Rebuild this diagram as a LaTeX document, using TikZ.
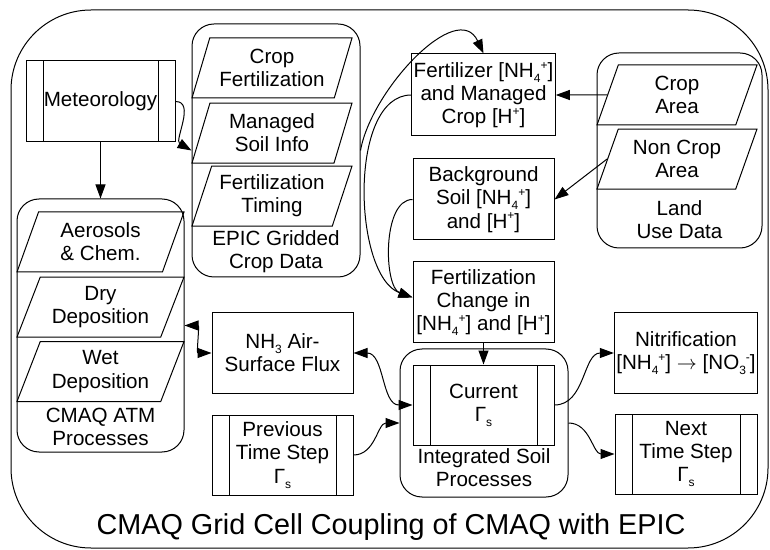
\documentclass[tikz,border=0pt]{standalone}
\usepackage{fontspec}
\setmainfont{Liberation Sans}
\usetikzlibrary{arrows.meta,positioning,shapes.geometric}

\newcommand{\lowtxt}[1]{\raisebox{-0.45ex}{\fontsize{6}{6}\selectfont #1}}
\newcommand{\hightxt}[1]{\raisebox{0.75ex}{\fontsize{6}{6}\selectfont #1}}
\newcommand{\nhfour}{[NH\lowtxt{4}\hightxt{+}]}
\newcommand{\hion}{[H\hightxt{+}]}
\newcommand{\nothree}{[NO\lowtxt{3}\hightxt{-}]}
\newcommand{\gammas}{Γ\lowtxt{s}}

\begin{document}
\begin{tikzpicture}[
  x=0.5pt, y=0.5pt,
  font=\fontsize{10.3}{11.6}\selectfont,
  >={Triangle[length=7pt, width=5pt]},
  box/.style={rectangle, draw, line width=0.5pt, minimum width=70.5pt, minimum height=40.5pt, align=center, inner sep=1pt},
  barbox/.style={box, path picture={
    \draw[line width=0.5pt] ([xshift=8.5pt]path picture bounding box.north west) -- ([xshift=8.5pt]path picture bounding box.south west);
    \draw[line width=0.5pt] ([xshift=-8.5pt]path picture bounding box.north east) -- ([xshift=-8.5pt]path picture bounding box.south east);}},
  data/.style={trapezium, trapezium left angle=63, trapezium right angle=117, trapezium stretches body, draw, line width=0.5pt, minimum width=80pt, minimum height=30pt, align=center, inner xsep=0pt, inner ysep=1pt},
  epicdata/.style={data, trapezium left angle=67, trapezium right angle=113},
  group/.style={rectangle, draw, line width=0.5pt, rounded corners=11pt},
  grouplabel/.style={align=center, inner sep=0pt},
  arrow/.style={->, line width=0.5pt},
  dblarrow/.style={<->, line width=0.5pt},
]
\useasboundingbox (0,0) rectangle (770,-550);

% Grid cell frame
\draw[line width=0.5pt, rounded corners=40pt] (11,-10) rectangle (768,-548);
\node[font=\fontsize{14.4}{17}\selectfont] (title) at (391,-527) {CMAQ Grid Cell Coupling of CMAQ with EPIC};

% Meteorology and CMAQ ATM processes
\node[barbox, minimum width=74.5pt] (met) at (100.5,-101.5) {Meteorology};
\node[group, minimum width=83.5pt, minimum height=126.5pt] (atm) at (100.5,-325.5) {};
\node[data, minimum width=83.5pt] (aer) at (100.5,-242) {Aerosols\\\& Chem.};
\node[data, minimum width=83.5pt, below=2pt of aer] (dry) {Dry\\Deposition};
\node[data, minimum width=83.5pt, below=1.75pt of dry] (wet) {Wet\\Deposition};
\node[grouplabel] (atmlbl) at (100.5,-427) {CMAQ ATM\\Processes};

% EPIC gridded crop data
\node[group, minimum width=84pt, minimum height=126.5pt] (epic) at (276,-150.5) {};
\node[epicdata] (cf) at (272,-68) {Crop\\Fertilization};
\node[epicdata, below=2pt of cf] (msi) {Managed\\Soil Info};
\node[epicdata, below=1pt of msi] (ft) {Fertilization\\Timing};
\node[grouplabel] (epiclbl) at (276,-252) {EPIC Gridded\\Crop Data};

% Land use data
\node[group, minimum width=82.5pt, minimum height=97.5pt] (land) at (679.5,-150.5) {};
\node[data] (crop) at (677,-95) {Crop\\Area};
\node[data, below=1.5pt of crop] (noncrop) {Non Crop\\Area};
\node[grouplabel] (landlbl) at (679.5,-220) {Land\\Use Data};

% Soil ammonium and pH
\node[box, minimum height=41pt] (fert) at (483.5,-95) {Fertilizer \nhfour\\and Managed\\Crop \hion};
\node[box, below=11pt of fert] (bg) {Background\\Soil \nhfour\\and \hion};
\node[box, below=10.5pt of bg] (fc) {Fertilization\\Change in\\\nhfour{} and \hion};

% Integrated soil processes
\node[group, minimum width=84pt, minimum height=74pt] (isp) at (484,-423) {};
\node[barbox, minimum height=40pt] (cur) at (483.5,-405) {Current\\\gammas};
\node[grouplabel] (isplbl) at (484,-468) {Integrated Soil\\Processes};

% Flux and time steps
\node[box, minimum height=40pt] (nh3) at (282.5,-353) {NH\lowtxt{3} Air-\\Surface Flux};
\node[barbox, minimum height=40pt, below=10.5pt of nh3] (prev) {Previous\\Time Step\\\gammas};
\node[box, minimum width=71pt, minimum height=40pt] (nit) at (686,-353) {Nitrification\\\nhfour{} $\rightarrow$ \nothree};
\node[barbox, minimum width=71pt, minimum height=40pt, below=10pt of nit] (next) {Next\\Time Step\\\gammas};

% Arrows
\draw[arrow] (met.south) -- (atm.north);
\draw[arrow] (met.east) to[out=0, in=150] (epic.west);
\draw[arrow] (epic.east) to[out=80, in=115] (fert.north);
\draw[arrow] (crop.west) -- (fert.east);
\draw[arrow] (noncrop.west) -- (bg.east);
\draw[arrow] (fert.west) to[out=180, in=160, looseness=0.8] ([yshift=2.5pt]fc.west);
\draw[arrow] (bg.west) to[out=180, in=160, looseness=0.8] ([yshift=2.5pt]fc.west);
\draw[arrow] (fc.south) -- (cur.north);
\draw[dblarrow] (atm.east) to[out=0, in=180] (nh3.west);
\draw[dblarrow] (nh3.east) to[out=0, in=180] (cur.west);
\draw[arrow] (prev.east) to[out=0, in=180] (isp.west);
\draw[arrow] (cur.east) to[out=0, in=180] (nit.west);
\draw[arrow] (isp.east) to[out=0, in=180] (next.west);

\end{tikzpicture}
\end{document}
